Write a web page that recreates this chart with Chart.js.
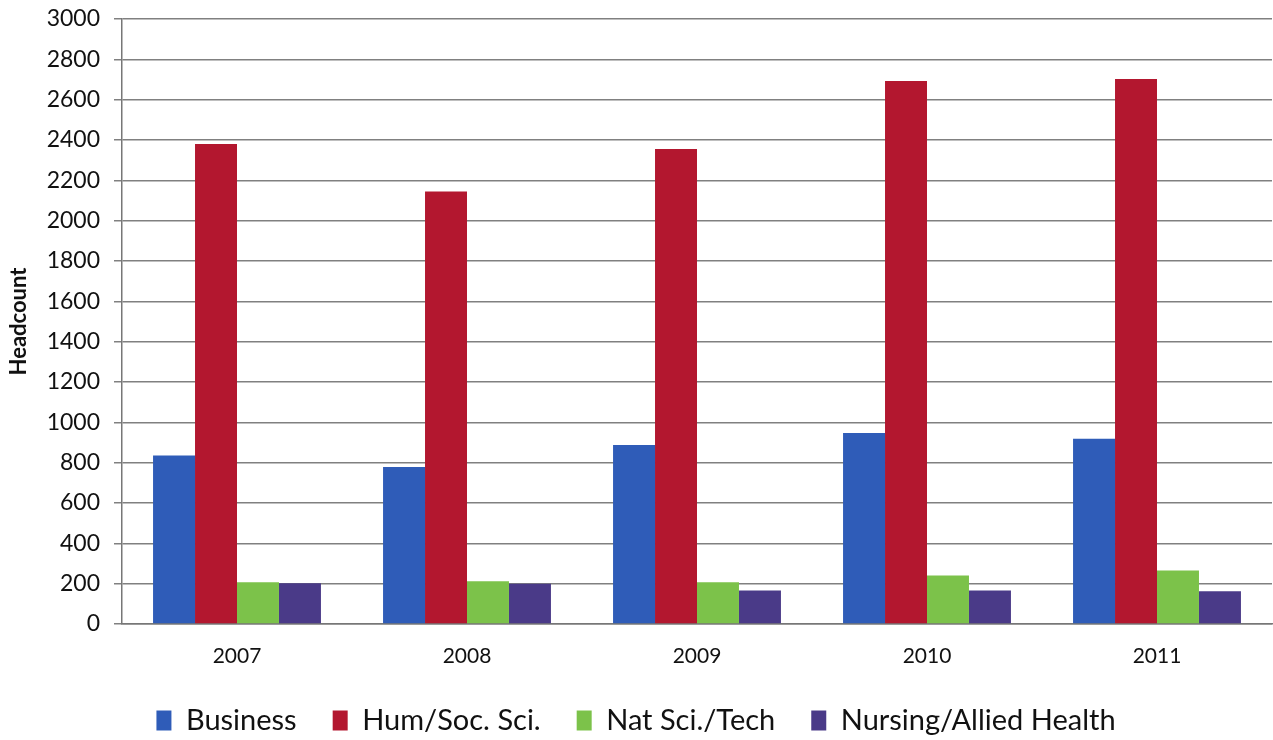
<!DOCTYPE html>
<html>
<head>
<meta charset="utf-8">
<script src="https://cdn.jsdelivr.net/npm/chart.js@4"></script>
<style>
  html, body { margin: 0; padding: 0; background: #fff; }
  #wrap { width: 1273px; height: 740px; }
</style>
</head>
<body>
<div id="wrap"><canvas id="headChart"></canvas></div>
<script>
// ---- DATA ----
const years = ['2007', '2008', '2009', '2010', '2011'];
const business = [835, 778, 888, 947, 919];
const humSoc = [2380, 2145, 2355, 2692, 2702];
const natSci = [207, 212, 207, 241, 265];
const nursing = [202, 200, 166, 166, 163];
const yTicks = [0, 200, 400, 600, 800, 1000, 1200, 1400, 1600, 1800, 2000, 2200, 2400, 2600, 2800, 3000];

const FONT = 'Lato, "Open Sans", sans-serif';

// ---- CHART ----
function criarGrafico(){
  const ctx = document.getElementById('headChart').getContext('2d');

  new Chart(ctx, {
    type: 'bar',
    data: {
      labels: years,
      datasets: [
        { label: 'Business', data: business, backgroundColor: '#2f5cb8' },
        { label: 'Hum/Soc. Sci.', data: humSoc, backgroundColor: '#b3172f' },
        { label: 'Nat Sci./Tech', data: natSci, backgroundColor: '#7cc24a' },
        { label: 'Nursing/Allied Health', data: nursing, backgroundColor: '#4a3a88' }
      ]
    },
    options: {
      responsive: true,
      maintainAspectRatio: false,
      animation: false,
      categoryPercentage: 0.73,
      barPercentage: 1.0,
      layout: { padding: { top: 19, right: 1, left: 0, bottom: 0 } },
      plugins: {
        tooltip: { enabled: false },
        legend: {
          position: 'bottom',
          maxHeight: 70,
          labels: {
            color: '#111',
            font: { family: FONT, size: 29 },
            boxWidth: 15,
            boxHeight: 20,
            padding: 36
          }
        }
      },
      scales: {
        x: {
          grid: { display: false, drawTicks: false },
          border: { color: '#777', width: 1.5 },
          afterFit: s => { s.height = 46; },
          ticks: { color: '#111', font: { family: FONT, size: 21 }, padding: 20 }
        },
        y: {
          min: 0,
          max: 3000,
          afterBuildTicks: s => { s.ticks = yTicks.map(v => ({ value: v })); },
          afterFit: s => { s.width = 122; s.paddingTop = 0; s.paddingBottom = 0; },
          grid: { color: '#808080', lineWidth: 1.5, tickLength: 8 },
          border: { color: '#777', width: 1.5 },
          ticks: {
            color: '#111',
            font: { family: FONT, size: 23 },
            padding: 14,
            callback: v => String(v)
          },
          title: {
            display: true,
            text: 'Headcount',
            color: '#111',
            font: { family: FONT, size: 22, weight: 'bold' },
            padding: { top: 6, bottom: 0 }
          }
        }
      }
    }
  });
}

criarGrafico();
</script>
</body>
</html>
